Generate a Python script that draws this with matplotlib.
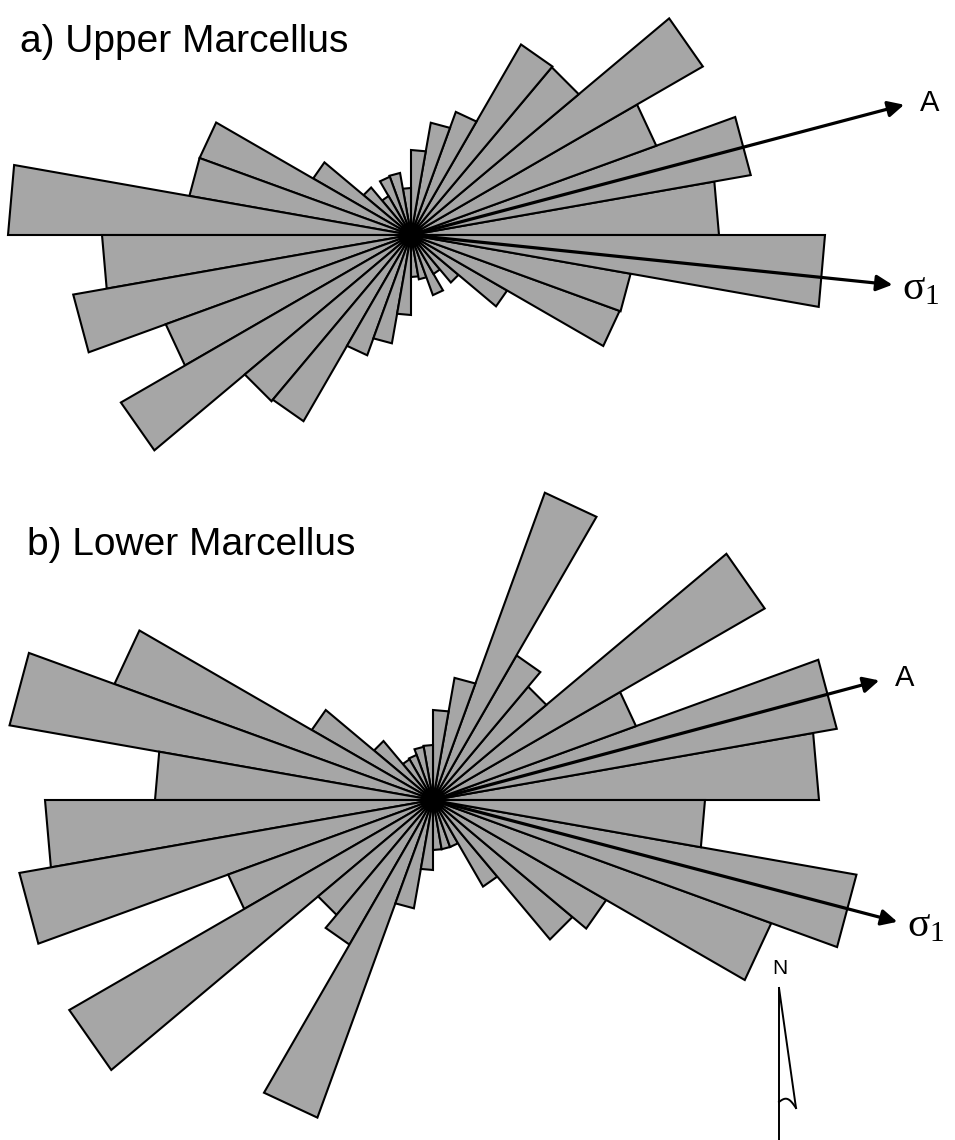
import numpy as np
import matplotlib
matplotlib.use("Agg")
import matplotlib.pyplot as plt

# rose bins are 10 degrees wide, counted counterclockwise from east
bin_start = np.arange(0, 360, 10)

upper_len = [308, 345, 261, 337, 219, 220, 131, 114, 85,
             47, 63, 62, 45, 62, 113, 225, 225, 403,
             309, 343, 261, 335, 217, 215, 128, 110, 80,
             42, 45, 64, 45, 62, 111, 222, 223, 414]
lower_len = [386, 410, 216, 383, 148, 167, 327, 124, 90,
             55, 54, 48, 47, 77, 140, 339, 430, 278,
             388, 420, 218, 420, 150, 167, 338, 110, 70,
             50, 50, 50, 100, 182, 200, 360, 430, 272]

# direction of the A axis and of sigma 1 (degrees ccw from east) and arrow length
upper_arrows = {"A": (14.8, 510), "s1": (-5.9, 484)}
lower_arrows = {"A": (15.0, 462), "s1": (-14.7, 480)}

W, H = 955, 1140
fig = plt.figure(figsize=(W / 100, H / 100), dpi=100)


def draw_rose(ax, lengths, arrows):
    for a0, r in zip(bin_start, lengths):
        t = np.radians([a0, a0 + 10])
        xs = [0, r * np.cos(t[0]), r * np.cos(t[1])]
        ys = [0, r * np.sin(t[0]), r * np.sin(t[1])]
        ax.fill(xs, ys, facecolor="#a6a6a6", edgecolor="black", lw=1.5,
                joinstyle="miter", zorder=2)
    for key, (ang, ln) in arrows.items():
        t = np.radians(ang)
        tip = (ln * np.cos(t), ln * np.sin(t))
        ax.annotate("", xy=tip, xytext=(0, 0),
                    arrowprops=dict(arrowstyle="-|>", lw=2.3, color="black",
                                    mutation_scale=24, shrinkA=0, shrinkB=0),
                    zorder=5)
        if key == "A":
            ax.text(tip[0] + 16, tip[1] + 2, "A", fontsize=21,
                    family="Liberation Sans", ha="left", va="center")
        else:
            ax.text(tip[0] + 10, tip[1] - 4, r"$\mathregular{\sigma_1}$",
                    fontsize=30, family="Liberation Serif",
                    ha="left", va="center")
    ax.set_axis_off()


# top panel: centre of rose at (411, 235) px, panel is 470 px tall
ax1 = fig.add_axes([0, 1 - 470 / H, 1, 470 / H])
ax1.set_xlim(-411, W - 411)
ax1.set_ylim(-235, 235)
draw_rose(ax1, upper_len, upper_arrows)
ax1.text(-391, 183, "a) Upper Marcellus", fontsize=28,
         family="Liberation Sans", ha="left", va="baseline")

# bottom panel: centre of rose at (433, 800) px
ax2 = fig.add_axes([0, 0, 1, 670 / H])
ax2.set_xlim(-433, W - 433)
ax2.set_ylim(-340, 330)
draw_rose(ax2, lower_len, lower_arrows)
ax2.text(-406, 245, "b) Lower Marcellus", fontsize=28,
         family="Liberation Sans", ha="left", va="baseline")

# north arrow
nx, ny = 346, -188
ax2.plot([nx, nx], [ny, -340], color="black", lw=1.4)
ax2.plot([nx, nx + 17], [ny, ny - 120], color="black", lw=1.4)
hook = np.linspace(0, 1, 20)
ax2.plot(nx + 17 * hook, ny - 114 + 6 * np.sin(np.pi * hook) - 6 * hook,
         color="black", lw=1.4)
ax2.text(nx + 1, ny + 20, "N", fontsize=15, family="Liberation Sans",
         ha="center", va="center")

fig.savefig("out.png", dpi=100, facecolor="white")
